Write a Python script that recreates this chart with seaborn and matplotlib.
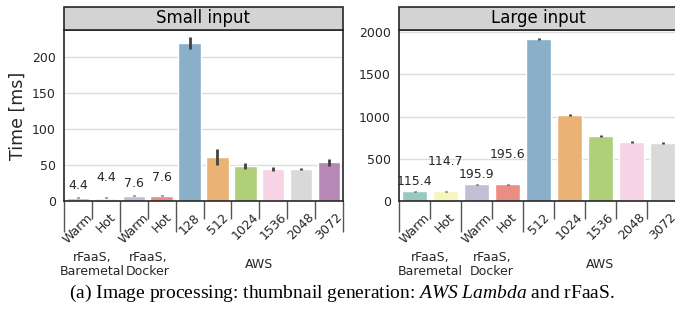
import numpy as np
import pandas as pd
import matplotlib
matplotlib.use("Agg")
import matplotlib.pyplot as plt
import matplotlib.transforms as mtransforms
from matplotlib.patches import Rectangle
import seaborn as sns

# Small input panel
small_groups = ["rFaaS,\nBaremetal", "rFaaS,\nDocker", "AWS"]
small_group_sizes = [2, 2, 6]
small_ticks = ["Warm", "Hot", "Warm", "Hot", "128", "512", "1024", "1536", "2048", "3072"]
small_time = [4.4, 4.4, 7.6, 7.6, 219.0, 61.0, 49.0, 44.4, 44.0, 53.5]
small_err = [0.6, 0.5, 0.6, 0.5, 8.0, 11.0, 4.0, 2.5, 1.5, 4.5]
small_labels = ["4.4", "4.4", "7.6", "7.6"]
small_label_off = [12, 20, 12.5, 18.5]   # px above bar top

# Large input panel
large_groups = ["rFaaS,\nBaremetal", "rFaaS,\nDocker", "AWS"]
large_group_sizes = [2, 2, 5]
large_ticks = ["Warm", "Hot", "Warm", "Hot", "512", "1024", "1536", "2048", "3072"]
large_time = [115.4, 114.7, 195.9, 195.6, 1920.0, 1015.0, 770.0, 696.0, 684.0]
large_err = [5.0, 5.0, 6.0, 6.0, 12.0, 10.0, 10.0, 10.0, 10.0]
large_labels = ["115.4", "114.7", "195.9", "195.6"]
large_label_off = [9.5, 29.5, 9.5, 29.5]

sns.set_theme(style="whitegrid")
plt.rcParams["font.family"] = ["DejaVu Sans"]
plt.rcParams["mathtext.fontset"] = "custom"
plt.rcParams["mathtext.rm"] = "Liberation Serif"
plt.rcParams["mathtext.it"] = "Liberation Serif:italic"

fig = plt.figure(figsize=(6.75, 3.12), dpi=100)
ax_l = fig.add_axes([64 / 675, 111 / 312, 279 / 675, 171 / 312])
ax_r = fig.add_axes([399 / 675, 111 / 312, 279 / 675, 171 / 312])

TXT = "#262626"
FS = 9


def panel(ax, title, groups, sizes, ticks, vals, errs, labels, offs, ylim, yticks):
    n = len(ticks)
    keys = [f"b{i}" for i in range(n)]
    df = pd.DataFrame({"key": keys, "time": vals})
    sns.barplot(data=df, x="key", y="time", hue="key", order=keys,
                palette=sns.color_palette("Set3", n), legend=False,
                errorbar=None, width=0.8, ax=ax, zorder=2)
    ax.errorbar(np.arange(n), vals, yerr=errs, fmt="none", ecolor=".26",
                elinewidth=2, capsize=0, zorder=3)
    for i, (lab, off) in enumerate(zip(labels, offs)):
        ax.annotate(lab, (i, vals[i]), xytext=(0, off * 0.72), textcoords="offset points",
                    ha="center", va="center", fontsize=FS, color=TXT, zorder=4)
    ax.set_xlim(-0.5, n - 0.5)
    ax.set_ylim(*ylim)
    ax.set_yticks(yticks)
    ax.set_xlabel("")
    ax.set_ylabel("")
    ax.grid(axis="x", visible=False)
    ax.grid(axis="y", color="#dddddd", lw=1.0, zorder=0)
    ax.set_axisbelow(True)
    for s in ax.spines.values():
        s.set_color(TXT)
        s.set_linewidth(1.2)
    ax.set_xticks(np.arange(n))
    ax.set_xticklabels(ticks, rotation=45, ha="center")
    ax.tick_params(axis="x", which="major", bottom=True, length=0, pad=7,
                   labelsize=FS, labelcolor=TXT)
    ax.tick_params(axis="y", length=0, pad=6, labelsize=FS, labelcolor=TXT)
    # separators between bars; longer ones between groups
    ax.set_xticks(np.arange(-0.5, n), minor=True)
    bounds = set(np.cumsum([0] + sizes) - 0.5)
    ax.tick_params(axis="x", which="minor", bottom=True, width=1.0, length=13,
                   color="#555555", direction="out")
    for loc, tk in zip(np.arange(-0.5, n), ax.xaxis.get_minor_ticks()):
        tk.tick1line.set_markersize(22 if loc in bounds else 13)
    # group labels
    trans = mtransforms.blended_transform_factory(ax.transData, ax.transAxes)
    start = 0
    for g, sz in zip(groups, sizes):
        ax.text(start + (sz - 1) / 2, -0.372, g, transform=trans, ha="center", va="center",
                fontsize=FS, color=TXT, linespacing=1.05)
        start += sz
    # facet title box
    h = 23 / 171
    ax.add_patch(Rectangle((0, 1), 1, h, transform=ax.transAxes, facecolor="#d3d3d3",
                           edgecolor=TXT, lw=1.2, clip_on=False, zorder=5))
    ax.text(0.5, 1 + h / 2, title, transform=ax.transAxes, ha="center", va="center",
            fontsize=12, color="black", zorder=6)


panel(ax_l, "Small input", small_groups, small_group_sizes, small_ticks, small_time,
      small_err, small_labels, small_label_off, (0, 237), [0, 50, 100, 150, 200])
panel(ax_r, "Large input", large_groups, large_group_sizes, large_ticks, large_time,
      large_err, large_labels, large_label_off, (0, 2025), [0, 500, 1000, 1500, 2000])

ax_l.set_ylabel("Time [ms]", fontsize=12.5, color=TXT, labelpad=4)

fig.text(0.507, 19 / 312,
         r"(a) Image processing: thumbnail generation: $\mathit{AWS\ Lambda}$ and rFaaS.",
         ha="center", va="center", fontsize=14, family="Liberation Serif", color="black")

fig.savefig("out.png", dpi=100)
